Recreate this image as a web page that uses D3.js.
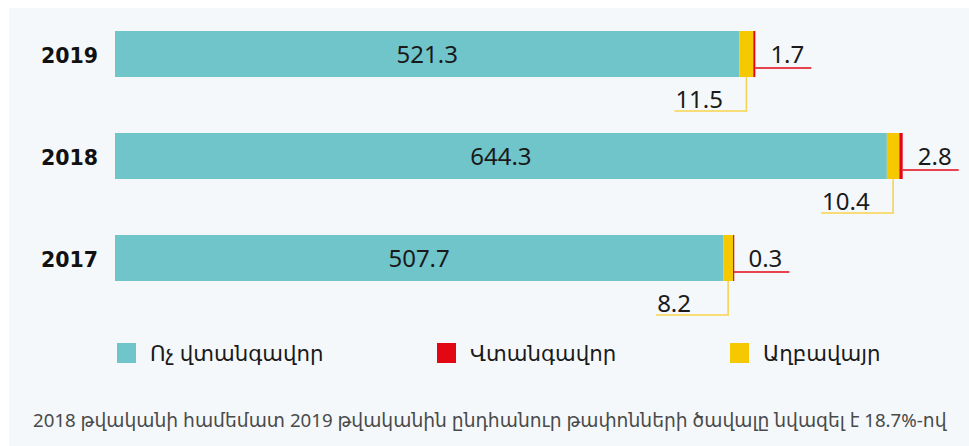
<!DOCTYPE html>
<html lang="hy">
<head>
<meta charset="utf-8">
<style>
  body { margin: 0; background: #fff; }
  svg { display: block; font-family: "Noto Sans", "DejaVu Sans", sans-serif; }
  .year { font-family: "DejaVu Sans", sans-serif; font-weight: bold; font-size: 20.5px; fill: #111; }
  .val { font-size: 24px; fill: #1a1a1a; }
  .legend text { font-size: 21.3px; fill: #1a1a1a; }
  .caption { font-size: 18.7px; fill: #4a4a4a; }
</style>
</head>
<body>
<svg width="969" height="446"></svg>
<script src="https://cdn.jsdelivr.net/npm/d3@7"></script>
<script>
// data
const years = ["2019", "2018", "2017"]
const safe = [521.3, 644.3, 507.7]      // Ոչ վտանգավոր
const landfill = [11.5, 10.4, 8.2]      // Աղբավայր
const hazardous = [1.7, 2.8, 0.3]       // Վտանգավոր
const seriesNames = ["Ոչ վտանգավոր", "Վտանգավոր", "Աղբավայր"]
const seriesColors = ["#70c5ca", "#e30613", "#f5c800"]
const caption = "2018 թվականի համեմատ 2019 թվականին ընդհանուր թափոնների ծավալը նվազել է 18.7%-ով"

const width = 969, height = 446
const svg = d3.select("svg")

// light panel
svg.append("rect")
  .attr("x", 9).attr("y", 8)
  .attr("width", width - 9).attr("height", height - 8)
  .attr("fill", "#f4f8fb")

const x = d3.scaleLinear().domain([0, 700]).range([115, 115 + 700 * 1.198])
const y = d3.scaleBand().domain(years)
  .range([8, 304])
  .paddingInner(56 / 102)
  .paddingOuter(23 / 102)

const rows = years.map((yr, i) => ({
  year: yr, safe: safe[i], landfill: landfill[i], hazardous: hazardous[i]
}))

const g = svg.append("g")

// year labels
g.selectAll("text.year").data(rows).join("text")
  .attr("class", "year")
  .attr("x", 98)
  .attr("y", d => y(d.year) + y.bandwidth() / 2 + 9)
  .attr("text-anchor", "end")
  .text(d => d.year)

// stacked segments
const segs = rows.flatMap(d => [
  { year: d.year, x0: 0, x1: d.safe, c: seriesColors[0] },
  { year: d.year, x0: d.safe, x1: d.safe + d.landfill, c: seriesColors[2] },
  { year: d.year, x0: d.safe + d.landfill, x1: d.safe + d.landfill + d.hazardous, c: seriesColors[1] }
])
g.selectAll("rect.seg").data(segs).join("rect")
  .attr("class", "seg")
  .attr("x", d => x(d.x0))
  .attr("y", d => y(d.year))
  .attr("width", d => Math.max(x(d.x1) - x(d.x0), 1.2))
  .attr("height", y.bandwidth())
  .attr("fill", d => d.c)

// value inside teal bar
g.selectAll("text.inner").data(rows).join("text")
  .attr("class", "val")
  .attr("x", d => (x(0) + x(d.safe)) / 2)
  .attr("y", d => y(d.year) + y.bandwidth() / 2 + 9)
  .attr("text-anchor", "middle")
  .text(d => d.safe)

// red leader (hazardous)
rows.forEach(d => {
  const xe = x(d.safe + d.landfill + d.hazardous)
  const ly = y(d.year) + y.bandwidth() - 9
  g.append("line")
    .attr("x1", xe).attr("x2", xe + 56)
    .attr("y1", ly).attr("y2", ly)
    .attr("stroke", "#e30613").attr("stroke-width", 1.5)
  g.append("text").attr("class", "val")
    .attr("x", xe + 32).attr("y", ly - 5)
    .attr("text-anchor", "middle")
    .text(d.hazardous)
})

// yellow leader (landfill)
rows.forEach(d => {
  const xm = x(d.safe + d.landfill / 2)
  const yb = y(d.year) + y.bandwidth()
  const ly = yb + 34
  g.append("path")
    .attr("d", `M${xm},${yb}V${ly}H${xm - 72}`)
    .attr("fill", "none")
    .attr("stroke", "#f7d24e").attr("stroke-width", 1.5)
  g.append("text").attr("class", "val")
    .attr("x", xm - 71).attr("y", ly - 3)
    .text(d.landfill)
})

// legend
const legendX = [117, 437, 730]
const leg = svg.append("g").attr("class", "legend")
  .selectAll("g").data(seriesNames).join("g")
  .attr("transform", (d, i) => `translate(${legendX[i]},343)`)
leg.append("rect")
  .attr("width", 19).attr("height", 20)
  .attr("fill", (d, i) => seriesColors[i])
leg.append("text")
  .attr("x", 33).attr("y", 18)
  .text(d => d)

svg.append("text")
  .attr("class", "caption")
  .attr("x", 33).attr("y", 427)
  .text(caption)
</script>
</body>
</html>
